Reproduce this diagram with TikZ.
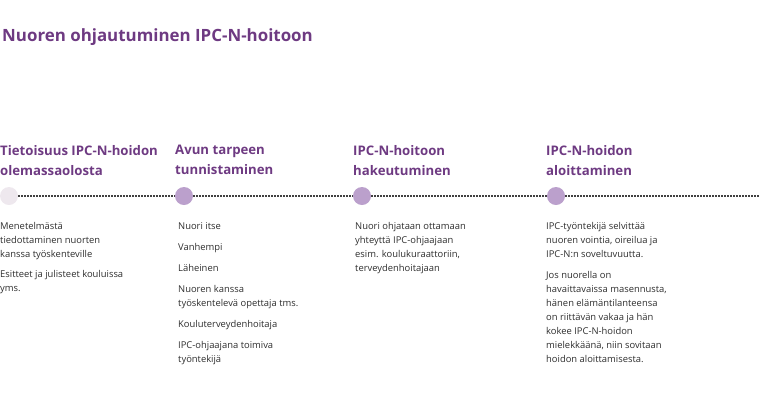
\documentclass[tikz,border=0pt]{standalone}
\usepackage{fontspec}
\setmainfont{Open Sans}
\definecolor{ipcpurple}{HTML}{6E3A82}
\definecolor{dotlila}{HTML}{BBA0CC}
\definecolor{dotpale}{HTML}{EEE8EE}
\definecolor{bodygray}{HTML}{2E2E2E}
\begin{document}
\begin{tikzpicture}[x=1pt, y=-1pt,
    heading/.style={anchor=north west, align=left, inner sep=0pt,
        font=\bfseries\fontsize{13.2}{20}\selectfont, text=ipcpurple},
    bodytext/.style={anchor=north west, align=left, inner sep=0pt,
        font=\fontsize{9.4}{14}\selectfont, text=bodygray},
    stepdot/.style={circle, minimum size=18pt, inner sep=0pt, fill=dotlila},
    timeline/.style={line width=1.3pt, dash pattern=on 1.3pt off 1.7pt, draw=black!75}]

    \useasboundingbox (0,0) rectangle (760,400);

    % Title
    \node[heading, font=\bfseries\fontsize{16.9}{20}\selectfont] (title) at (2,28) {Nuoren ohjautuminen IPC-N-hoitoon};

    % Step headings
    \node[heading] (h1) at (0,145) {Tietoisuus IPC-N-hoidon\\olemassaolosta};
    \node[heading] (h2) at (175,145) {Avun tarpeen\\tunnistaminen};
    \node[heading] (h3) at (353,145) {IPC-N-hoitoon\\hakeutuminen};
    \node[heading] (h4) at (546,145) {IPC-N-hoidon\\aloittaminen};

    % Timeline
    \node[stepdot, fill=dotpale] (d1) at (9,196) {};
    \node[stepdot] (d2) at (184,196) {};
    \node[stepdot] (d3) at (362,196) {};
    \node[stepdot] (d4) at (556,196) {};
    \coordinate (tend) at (760,196);
    \draw[timeline] (d1) -- (d2) (d2) -- (d3) (d3) -- (d4) (d4) -- (tend);

    % Step descriptions
    \node[bodytext] (t1) at (0,222) {Menetelmästä\\tiedottaminen nuorten\\kanssa työskenteville\\[6pt]Esitteet ja julisteet kouluissa\\yms.};
    \node[bodytext] (t2) at (178,222) {Nuori itse\\[7pt]Vanhempi\\[7pt]Läheinen\\[7pt]Nuoren kanssa\\työskentelevä opettaja tms.\\[7pt]Kouluterveydenhoitaja\\[7pt]IPC-ohjaajana toimiva\\työntekijä};
    \node[bodytext] (t3) at (355,222) {Nuori ohjataan ottamaan\\yhteyttä IPC-ohjaajaan\\esim. koulukuraattoriin,\\terveydenhoitajaan};
    \node[bodytext] (t4) at (546,222) {IPC-työntekijä selvittää\\nuoren vointia, oireilua ja\\IPC-N:n soveltuvuutta.\\[7pt]Jos nuorella on\\havaittavaissa masennusta,\\hänen elämäntilanteensa\\on riittävän vakaa ja hän\\kokee IPC-N-hoidon\\mielekkäänä, niin sovitaan\\hoidon aloittamisesta.};

\end{tikzpicture}
\end{document}
